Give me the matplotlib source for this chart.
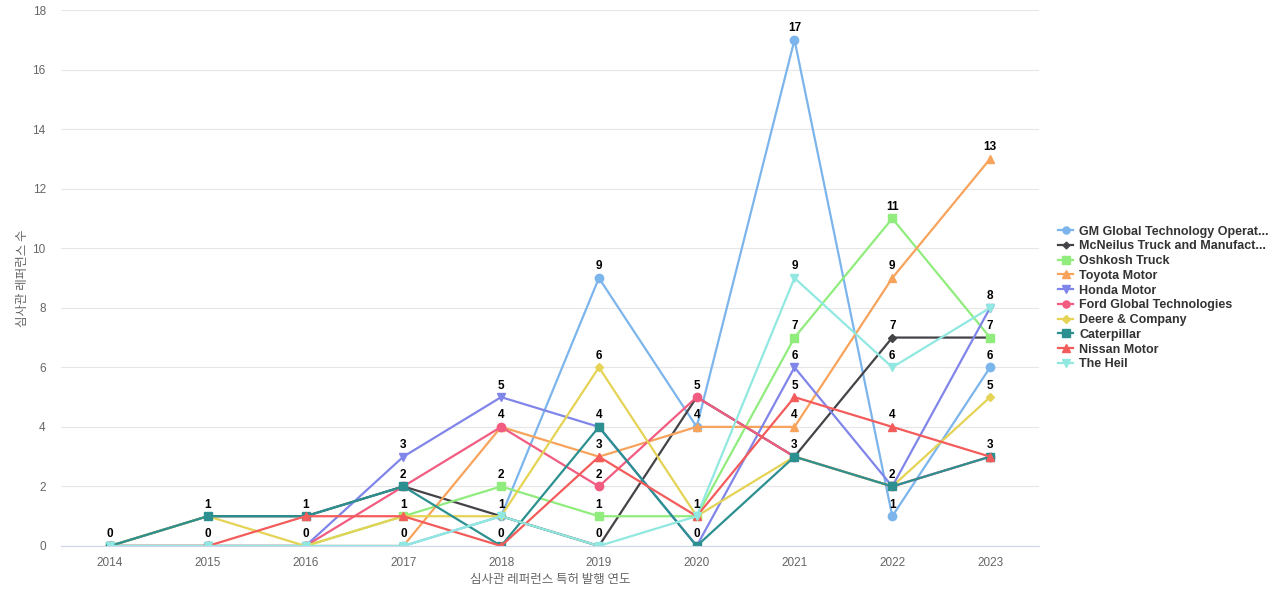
import matplotlib
matplotlib.use('Agg')
import matplotlib.pyplot as plt
import numpy as np

plt.rcParams['font.family'] = ['Noto Sans CJK KR', 'DejaVu Sans']

# Years on the x axis
years = ['2014', '2015', '2016', '2017', '2018', '2019', '2020', '2021', '2022', '2023']

# Citation counts per applicant
gm = [0, 0, 0, 0, 1, 9, 4, 17, 1, 6]
mcneilus = [0, 1, 1, 2, 1, 0, 5, 3, 7, 7]
oshkosh = [0, 0, 0, 1, 2, 1, 1, 7, 11, 7]
toyota = [0, 0, 0, 0, 4, 3, 4, 4, 9, 13]
honda = [0, 0, 0, 3, 5, 4, 0, 6, 2, 8]
ford = [0, 0, 0, 2, 4, 2, 5, 3, 2, 3]
deere = [0, 1, 0, 1, 1, 6, 1, 3, 2, 5]
caterpillar = [0, 1, 1, 2, 0, 4, 0, 3, 2, 3]
nissan = [0, 0, 1, 1, 0, 3, 1, 5, 4, 3]
the_heil = [0, 0, 0, 0, 1, 0, 1, 9, 6, 8]

series_names = ['GM Global Technology Operat...', 'McNeilus Truck and Manufact...',
                'Oshkosh Truck', 'Toyota Motor', 'Honda Motor', 'Ford Global Technologies',
                'Deere & Company', 'Caterpillar', 'Nissan Motor', 'The Heil']
series_values = [gm, mcneilus, oshkosh, toyota, honda, ford, deere, caterpillar, nissan, the_heil]
colors = ['#7cb5ec', '#434348', '#90ed7d', '#f7a35c', '#8085e9',
          '#f15c80', '#e4d354', '#2b908f', '#f45b5b', '#91e8e1']
markers = ['o', 'D', 's', '^', 'v', 'o', 'D', 's', '^', 'v']
msizes = [6, 4, 6, 6, 6, 6, 4.5, 6, 6, 6]

latin = ['Liberation Sans', 'DejaVu Sans']

fig = plt.figure(figsize=(12.8, 6), dpi=100)
ax = fig.add_axes([0.0477, 0.09, 0.764, 0.8933])

x = np.arange(len(years))
labelled = set()
for name, vals, c, m, ms in zip(series_names, series_values, colors, markers, msizes):
    ax.plot(x, vals, color=c, marker=m, markersize=ms, linewidth=1.6, label=name)
    for xi, v in zip(x, vals):
        # same value at same year -> only one label (they overlap anyway)
        if (xi, v) in labelled:
            continue
        labelled.add((xi, v))
        ax.annotate(str(v), (xi, v), xytext=(0, 4), textcoords='offset points',
                    ha='center', va='bottom', fontsize=8.5, fontweight='bold',
                    color='black', family=latin, zorder=5)

ax.set_xlim(-0.5, len(years) - 0.5)
ax.set_ylim(0, 18)
ax.set_yticks(range(0, 19, 2))
ax.set_xticks(x)
ax.set_xticklabels(years)
ax.tick_params(axis='both', length=0, labelsize=8.5, colors='#666666', pad=8)
for lab in ax.get_xticklabels() + ax.get_yticklabels():
    lab.set_family(latin)
ax.tick_params(axis='y', pad=11)
ax.grid(axis='y', color='#e6e6e6', linewidth=0.8)
ax.set_axisbelow(True)
for s in ['top', 'right', 'left']:
    ax.spines[s].set_visible(False)
ax.spines['bottom'].set_color('#ccd6eb')

ax.set_xlabel('심사관 레퍼런스 특허 발행 연도', fontsize=9, color='#666666', labelpad=3)
ax.set_ylabel('심사관 레퍼런스 수', fontsize=9, color='#666666')
ax.yaxis.set_label_coords(-0.033, 0.5)

leg = fig.legend(loc='center left', bbox_to_anchor=(1058 / 1280, 1 - 298 / 600), frameon=False,
                 prop={'family': latin, 'weight': 'bold', 'size': 9},
                 handlelength=1.2, handletextpad=0.5, labelspacing=0.22,
                 borderaxespad=0, borderpad=0, markerscale=0.85)
for t in leg.get_texts():
    t.set_color('#333333')

fig.savefig('out.png', dpi=100)
